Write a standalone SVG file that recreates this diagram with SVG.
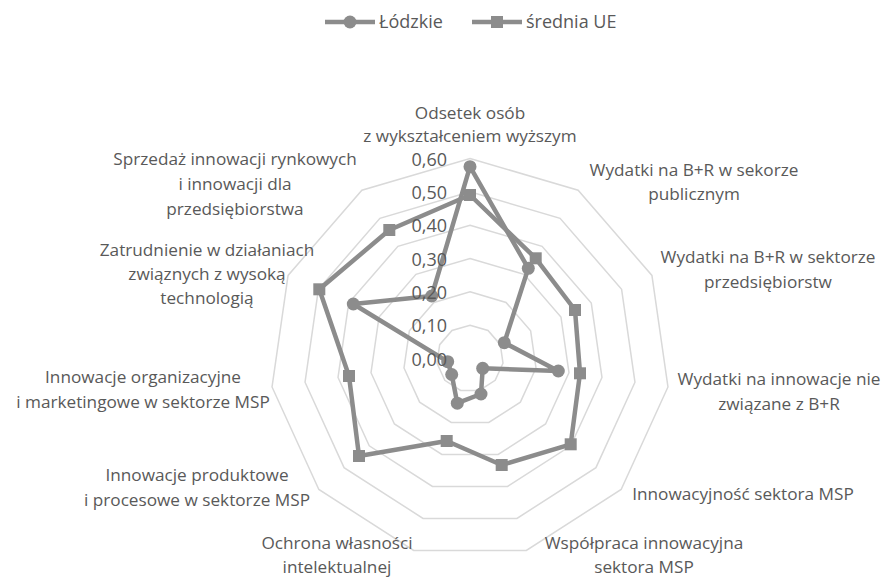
<svg xmlns="http://www.w3.org/2000/svg" xmlns:xlink="http://www.w3.org/1999/xlink" width="885" height="579" viewBox="0 0 885 579">
  <style>
    text { font-family: "Open Sans", "Noto Sans", "DejaVu Sans", sans-serif; fill: #595959; }
    .lbl { font-size: 17.2px; text-anchor: middle; }
    .tick { font-size: 18px; text-anchor: end; }
    .leg { font-size: 18px; }
    .ring { fill: none; stroke: #d9d9d9; stroke-width: 1.5; }
    .series { fill: none; stroke: #8c8c8c; stroke-width: 4.5; stroke-linejoin: round; }
    .mk { fill: #8c8c8c; }
  </style>
  <defs>
    <circle id="dot" r="6.5"/>
    <rect id="sq" x="-6" y="-6" width="12" height="12"/>
  </defs>
  <rect width="885" height="579" fill="#ffffff"/>

  <!-- legend -->
  <g id="legend">
    <line x1="325" y1="22" x2="375" y2="22" stroke="#8c8c8c" stroke-width="4.5"/>
    <use xlink:href="#dot" class="mk" x="350" y="22"/>
    <text class="leg" x="379" y="28">Łódzkie</text>
    <line x1="472" y1="22" x2="522" y2="22" stroke="#8c8c8c" stroke-width="4.5"/>
    <use xlink:href="#sq" class="mk" x="497" y="22"/>
    <text class="leg" x="526" y="28">średnia UE</text>
  </g>

  <!-- grid rings 0.10 ... 0.60 (11-sided, centre 470,358.5) -->
  <g id="grid">
    <polygon class="ring" points="470,325.17 488.02,330.46 500.32,344.65 502.99,363.24 495.19,380.33 479.39,390.48 460.61,390.48 444.81,380.33 437.01,363.24 439.68,344.65 451.98,330.46"/>
    <polygon class="ring" points="470,291.83 506.04,302.41 530.64,330.81 535.99,367.99 520.38,402.16 488.78,422.47 451.22,422.47 419.62,402.16 404.01,367.99 409.36,330.81 433.96,302.41"/>
    <polygon class="ring" points="470,258.5 524.06,274.37 560.96,316.96 568.98,372.73 545.57,423.99 498.17,454.45 441.83,454.45 394.43,423.99 371.02,372.73 379.04,316.96 415.94,274.37"/>
    <polygon class="ring" points="470,225.17 542.08,246.33 591.28,303.11 601.97,377.47 570.76,445.82 507.56,486.43 432.44,486.43 369.24,445.82 338.03,377.47 348.72,303.11 397.92,246.33"/>
    <polygon class="ring" points="470,191.83 560.1,218.29 621.6,289.27 634.97,382.22 595.95,467.65 516.95,518.42 423.05,518.42 344.05,467.65 305.03,382.22 318.4,289.27 379.9,218.29"/>
    <polygon class="ring" points="470,158.5 578.12,190.24 651.92,275.42 667.96,386.96 621.14,489.48 526.34,550.4 413.66,550.4 318.86,489.48 272.04,386.96 288.08,275.42 361.88,190.24"/>
  </g>

  <!-- data series -->
  <g id="connectors">
    <polygon id="series-lodzkie" class="series" points="470,166.7 528.3,268.3 504.3,342.7 558.3,371 482.7,368.3 481,394 457.3,403.2 451.7,374.5 447.7,361.7 353.3,304 431.7,296"/>
    <polygon id="series-ue" class="series" points="470,195 535.7,258.3 575,310 580,373.3 570.7,444.3 501.7,465 446.7,441 359,456 349,376 319.3,289.3 389.3,230"/>
  </g>
  <g id="markers-lodzkie" class="mk">
    <use xlink:href="#dot" x="470" y="166.7"/>
    <use xlink:href="#dot" x="528.3" y="268.3"/>
    <use xlink:href="#dot" x="504.3" y="342.7"/>
    <use xlink:href="#dot" x="558.3" y="371"/>
    <use xlink:href="#dot" x="482.7" y="368.3"/>
    <use xlink:href="#dot" x="481" y="394"/>
    <use xlink:href="#dot" x="457.3" y="403.2"/>
    <use xlink:href="#dot" x="451.7" y="374.5"/>
    <use xlink:href="#dot" x="447.7" y="361.7"/>
    <use xlink:href="#dot" x="353.3" y="304"/>
    <use xlink:href="#dot" x="431.7" y="296"/>
  </g>
  <g id="markers-ue" class="mk">
    <use xlink:href="#sq" x="470" y="195"/>
    <use xlink:href="#sq" x="535.7" y="258.3"/>
    <use xlink:href="#sq" x="575" y="310"/>
    <use xlink:href="#sq" x="580" y="373.3"/>
    <use xlink:href="#sq" x="570.7" y="444.3"/>
    <use xlink:href="#sq" x="501.7" y="465"/>
    <use xlink:href="#sq" x="446.7" y="441"/>
    <use xlink:href="#sq" x="359" y="456"/>
    <use xlink:href="#sq" x="349" y="376"/>
    <use xlink:href="#sq" x="319.3" y="289.3"/>
    <use xlink:href="#sq" x="389.3" y="230"/>
  </g>

  <!-- value axis labels -->
  <g id="axis-values">
    <text class="tick" x="447" y="165.5">0,60</text>
    <text class="tick" x="447" y="198.8">0,50</text>
    <text class="tick" x="447" y="232.2">0,40</text>
    <text class="tick" x="447" y="265.5">0,30</text>
    <text class="tick" x="447" y="298.8">0,20</text>
    <text class="tick" x="447" y="332.2">0,10</text>
    <text class="tick" x="447" y="365.5">0,00</text>
  </g>

  <!-- category labels -->
  <g id="cat-0"><text class="lbl" x="470" y="119">Odsetek osób</text><text class="lbl" x="470" y="142">z wykształceniem wyższym</text></g>
  <g id="cat-1"><text class="lbl" x="694" y="176">Wydatki na B+R w sekorze</text><text class="lbl" x="694" y="200">publicznym</text></g>
  <g id="cat-2"><text class="lbl" x="768" y="263">Wydatki na B+R w sektorze</text><text class="lbl" x="768" y="288">przedsiębiorstw</text></g>
  <g id="cat-3"><text class="lbl" x="779" y="385">Wydatki na innowacje nie</text><text class="lbl" x="779" y="410">związane z B+R</text></g>
  <g id="cat-4"><text class="lbl" x="743" y="500">Innowacyjność sektora MSP</text></g>
  <g id="cat-5"><text class="lbl" x="644" y="549">Współpraca innowacyjna</text><text class="lbl" x="644" y="573">sektora MSP</text></g>
  <g id="cat-6"><text class="lbl" x="337" y="549">Ochrona własności</text><text class="lbl" x="337" y="573">intelektualnej</text></g>
  <g id="cat-7"><text class="lbl" x="197" y="481">Innowacje produktowe</text><text class="lbl" x="197" y="506">i procesowe w sektorze MSP</text></g>
  <g id="cat-8"><text class="lbl" x="143" y="383">Innowacje organizacyjne</text><text class="lbl" x="143" y="408">i marketingowe w sektorze MSP</text></g>
  <g id="cat-9"><text class="lbl" x="207" y="256">Zatrudnienie w działaniach</text><text class="lbl" x="207" y="280">związnych z wysoką</text><text class="lbl" x="207" y="304">technologią</text></g>
  <g id="cat-10"><text class="lbl" x="235" y="165">Sprzedaż innowacji rynkowych</text><text class="lbl" x="235" y="190">i innowacji dla</text><text class="lbl" x="235" y="215">przedsiębiorstwa</text></g>
</svg>
